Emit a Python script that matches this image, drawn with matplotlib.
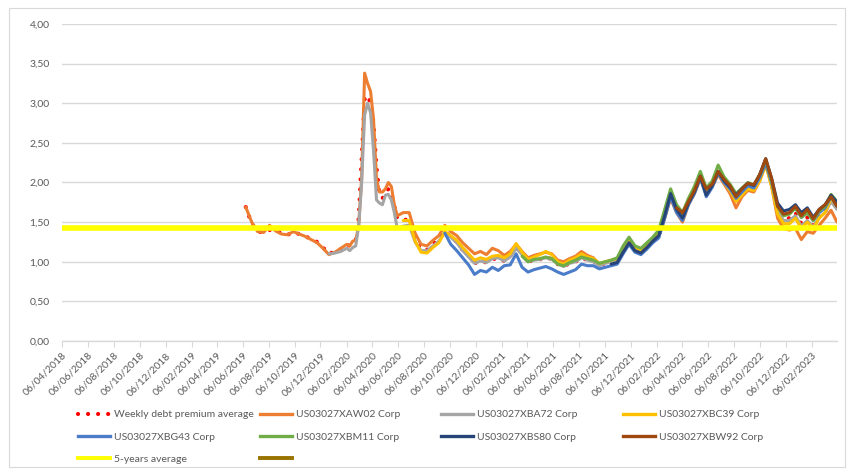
import numpy as np
import pandas as pd
import matplotlib
matplotlib.use('Agg')
import matplotlib.pyplot as plt
from matplotlib.lines import Line2D
from matplotlib.patches import Rectangle

plt.rcParams['font.family'] = ['Lato', 'DejaVu Sans']

# ---- dates (biweekly, weekly around the 2020 spike) ----
dates = pd.DatetimeIndex(
    list(pd.date_range('2019-06-13', periods=18, freq='14D')) +
    list(pd.date_range('2020-02-13', periods=17, freq='7D')) +
    list(pd.date_range('2020-06-18', periods=74, freq='14D')))

# ---- series values (each series ends at the last date) ----
weekly_avg = [
    1.69, 1.48, 1.38, 1.37, 1.40, 1.40, 1.36, 1.34, 1.37, 1.35, 1.32, 1.29, 1.25, 1.18, 1.10, 1.13, 1.16, 1.22,
    1.20, 1.24, 1.27, 1.55, 2.30, 3.05, 3.10, 3.00, 2.75, 2.20, 1.85, 1.80, 1.86, 1.92, 1.85, 1.70, 1.55,
    1.55, 1.50, 1.28, 1.16, 1.15, 1.22, 1.28, 1.38, 1.32, 1.25,
    1.15, 1.08, 0.98, 1.01, 0.99, 1.03, 1.05, 1.01, 1.07, 1.18,
    1.10, 1.00, 1.02, 1.03, 1.06, 1.03, 0.97, 0.94, 0.98, 1.00,
    1.05, 1.02, 1.01, 0.95, 0.98, 1.00, 1.02, 1.15, 1.26, 1.16,
    1.13, 1.20, 1.28, 1.33, 1.58, 1.84, 1.66, 1.55, 1.74, 1.88,
    2.07, 1.87, 1.96, 2.13, 2.00, 1.91, 1.80, 1.87, 1.95, 1.92,
    2.07, 2.26, 2.00, 1.66, 1.54, 1.55, 1.62, 1.48, 1.56, 1.46,
    1.57, 1.63, 1.76, 1.66]

aw02 = [
    1.69, 1.50, 1.38, 1.37, 1.46, 1.39, 1.35, 1.34, 1.38, 1.35, 1.32, 1.28, 1.24, 1.17, 1.09, 1.12, 1.17, 1.22,
    1.20, 1.26, 1.27, 1.45, 2.05, 3.38, 3.25, 3.15, 2.80, 2.05, 1.88, 1.88, 1.92, 2.00, 1.95, 1.72, 1.58,
    1.62, 1.62, 1.36, 1.22, 1.20, 1.27, 1.33, 1.46, 1.38, 1.33,
    1.24, 1.17, 1.10, 1.13, 1.09, 1.17, 1.14, 1.08, 1.13, 1.22,
    1.13, 1.05, 1.08, 1.10, 1.12, 1.10, 1.02, 1.00, 1.04, 1.07,
    1.13, 1.08, 1.05, 0.97, 0.99, 1.01, 1.03, 1.15, 1.25, 1.17,
    1.12, 1.20, 1.27, 1.32, 1.55, 1.80, 1.62, 1.50, 1.72, 1.86,
    2.05, 1.85, 1.95, 2.10, 1.98, 1.86, 1.68, 1.82, 1.90, 1.88,
    2.02, 2.25, 1.95, 1.55, 1.42, 1.40, 1.42, 1.28, 1.38, 1.36,
    1.46, 1.55, 1.65, 1.50]

ba72 = [
    1.10, 1.11, 1.13, 1.17,
    1.14, 1.18, 1.20, 1.45, 2.00, 2.85, 3.00, 2.88, 2.40, 1.78, 1.74, 1.72, 1.84, 1.85, 1.78, 1.62, 1.42,
    1.45, 1.46, 1.25, 1.14, 1.14, 1.20, 1.26, 1.37, 1.31, 1.24,
    1.14, 1.06, 0.98, 1.01, 0.99, 1.04, 1.05, 1.01, 1.06, 1.17,
    1.09, 1.00, 1.02, 1.03, 1.05, 1.03, 0.97, 0.94, 0.98, 1.00,
    1.05, 1.02, 1.00, 0.95, 0.98, 1.00, 1.02, 1.14, 1.25, 1.15,
    1.12, 1.19, 1.27, 1.33, 1.57, 1.84, 1.66, 1.55, 1.74, 1.88,
    2.07, 1.87, 1.96, 2.13, 2.00, 1.90, 1.78, 1.86, 1.94, 1.92,
    2.06, 2.26, 2.00, 1.64, 1.52, 1.52, 1.58, 1.45, 1.52, 1.44,
    1.56, 1.62, 1.76, 1.66]

bc39 = [
    1.52, 1.52, 1.26, 1.12, 1.11, 1.18, 1.24, 1.38, 1.33, 1.27,
    1.18, 1.10, 1.02, 1.05, 1.03, 1.07, 1.08, 1.05, 1.10, 1.23,
    1.12, 1.03, 1.06, 1.09, 1.13, 1.09, 1.00, 0.97, 1.02, 1.05,
    1.10, 1.06, 1.04, 0.98, 1.00, 1.02, 1.04, 1.16, 1.27, 1.18,
    1.15, 1.22, 1.29, 1.35, 1.58, 1.84, 1.66, 1.56, 1.76, 1.90,
    2.08, 1.88, 1.97, 2.13, 2.00, 1.90, 1.76, 1.84, 1.92, 1.90,
    2.02, 2.22, 1.95, 1.60, 1.48, 1.48, 1.55, 1.42, 1.50, 1.42,
    1.55, 1.62, 1.80, 1.70]

bg43 = [
    1.36, 1.22, 1.14,
    1.05, 0.96, 0.84, 0.89, 0.87, 0.93, 0.89, 0.95, 0.96, 1.10,
    0.93, 0.87, 0.90, 0.92, 0.94, 0.91, 0.87, 0.84, 0.87, 0.90,
    0.97, 0.95, 0.95, 0.91, 0.93, 0.95, 0.97, 1.10, 1.22, 1.12,
    1.09, 1.16, 1.24, 1.30, 1.55, 1.82, 1.62, 1.52, 1.72, 1.86,
    2.06, 1.82, 1.94, 2.12, 2.00, 1.92, 1.80, 1.88, 1.96, 1.93,
    2.06, 2.24, 2.00, 1.70, 1.60, 1.61, 1.68, 1.56, 1.62, 1.52,
    1.62, 1.68, 1.82, 1.70]

bm11 = [
    1.07, 1.00, 1.03, 1.04, 1.06, 1.04, 0.97, 0.95, 0.99, 1.02,
    1.06, 1.04, 1.02, 0.98, 1.00, 1.02, 1.05, 1.20, 1.31, 1.20,
    1.17, 1.24, 1.31, 1.40, 1.66, 1.92, 1.72, 1.62, 1.80, 1.95,
    2.14, 1.93, 2.02, 2.22, 2.07, 1.98, 1.86, 1.93, 2.00, 1.97,
    2.10, 2.28, 2.03, 1.70, 1.58, 1.60, 1.68, 1.56, 1.62, 1.52,
    1.64, 1.70, 1.85, 1.76]

bs80 = [
    0.97, 0.99, 1.12, 1.24, 1.14,
    1.11, 1.18, 1.26, 1.33, 1.58, 1.86, 1.66, 1.55, 1.74, 1.88,
    2.08, 1.84, 1.96, 2.14, 2.02, 1.94, 1.84, 1.92, 1.99, 1.96,
    2.10, 2.30, 2.05, 1.74, 1.64, 1.66, 1.72, 1.62, 1.68, 1.56,
    1.66, 1.72, 1.84, 1.75]

bw92 = [
    1.68, 1.62, 1.76, 1.90,
    2.08, 1.92, 1.98, 2.14, 2.04, 1.96, 1.82, 1.92, 1.99, 1.97,
    2.10, 2.30, 2.05, 1.70, 1.60, 1.62, 1.70, 1.58, 1.66, 1.54,
    1.66, 1.72, 1.82, 1.70]

five_year_avg = 1.42

labels = ['Weekly debt premium average', 'US03027XAW02 Corp', 'US03027XBA72 Corp',
          'US03027XBC39 Corp', 'US03027XBG43 Corp', 'US03027XBM11 Corp',
          'US03027XBS80 Corp', 'US03027XBW92 Corp', '5-years average', '']

tick_dates = pd.date_range('2018-04-06', '2023-02-06', freq=pd.DateOffset(months=2))
y_ticks = [0, 0.5, 1.0, 1.5, 2.0, 2.5, 3.0, 3.5, 4.0]

# ---- styling ----
C_RED = '#FF0000'
colors = ['#ED7D31', '#A5A5A5', '#FFC000', '#4A7CC9', '#70AD47', '#264478', '#9E480E']
C_YEL = '#FFFF00'
C_OLIVE = '#997300'
GRID = '#D9D9D9'
TXT = '#595959'
FS = 7.5

W, H = 847, 469
fig = plt.figure(figsize=(W / 100, H / 100), dpi=100)
ax = fig.add_axes([62 / W, 1 - 341 / H, (837 - 62) / W, (341 - 24) / H])

red_style = (0, (0.01, 2.4))
ax.plot(dates, weekly_avg, color=C_RED, lw=3.0, linestyle=red_style,
        dash_capstyle='round', zorder=2)

bond_series = [aw02, ba72, bc39, bg43, bm11, bs80, bw92]
for i, (vals, col) in enumerate(zip(bond_series, colors)):
    d = dates[len(dates) - len(vals):]
    ax.plot(d, vals, color=col, lw=2.2, solid_joinstyle='round',
            solid_capstyle='round', zorder=3 + i)

ax.axhline(five_year_avg, color=C_YEL, lw=4.0, zorder=12)

ax.set_xlim(pd.Timestamp('2018-04-06'), pd.Timestamp('2023-04-06'))
ax.set_ylim(0, 4)
ax.set_yticks(y_ticks)
ax.set_yticklabels([f'{v:.2f}'.replace('.', ',') for v in y_ticks])
ax.set_xticks(tick_dates)
ax.set_xticklabels([d.strftime('%d/%m/%Y') for d in tick_dates], rotation=45,
                   ha='right', rotation_mode='anchor')
ax.tick_params(axis='y', length=0, pad=9, labelsize=FS, labelcolor=TXT)
ax.tick_params(axis='x', length=4, color=GRID, pad=3, labelsize=FS, labelcolor=TXT)
ax.yaxis.grid(True, color=GRID, lw=1.0)
ax.set_axisbelow(True)
for s in ['left', 'right', 'top']:
    ax.spines[s].set_visible(False)
ax.spines['bottom'].set_color(GRID)
ax.spines['bottom'].set_linewidth(1.0)

# ---- legend: 4 columns placed like the Excel legend ----
handles = [Line2D([], [], color=C_RED, lw=3.0, linestyle=red_style, dash_capstyle='round')]
handles += [Line2D([], [], color=c, lw=2.4) for c in colors]
handles += [Line2D([], [], color=C_YEL, lw=2.8), Line2D([], [], color=C_OLIVE, lw=2.8)]

columns = [[0, 4, 8], [1, 5, 9], [2, 6], [3, 7]]
col_x = [78, 260, 441, 623]
for xs, idx in zip(col_x, columns):
    leg = fig.legend([handles[i] for i in idx], [labels[i] for i in idx],
                     loc='upper left', bbox_to_anchor=(xs / W, 1 - 410 / H),
                     frameon=False, fontsize=FS, handlelength=3.1,
                     handletextpad=0.35, labelspacing=1.25, borderpad=0,
                     borderaxespad=0)
    for t in leg.get_texts():
        t.set_color(TXT)

fig.patches.append(Rectangle((9 / W, 2 / H), (845 - 9) / W, (459) / H,
                             transform=fig.transFigure, fill=False,
                             edgecolor=GRID, lw=0.8))

fig.savefig('out.png', dpi=100, facecolor='white')
